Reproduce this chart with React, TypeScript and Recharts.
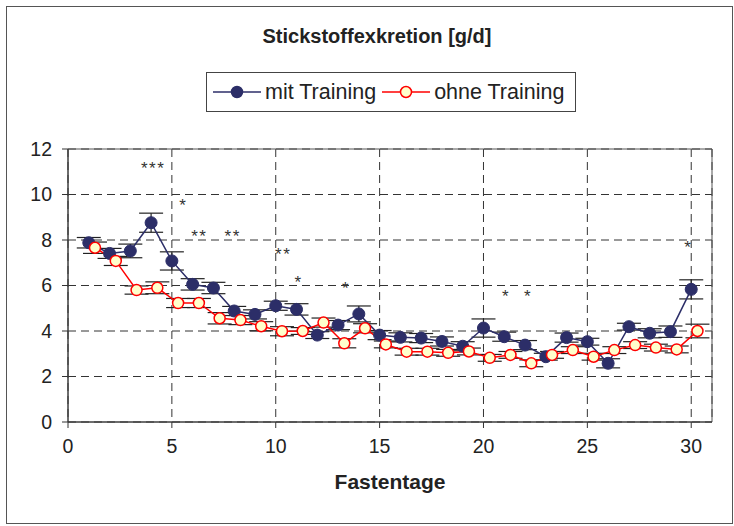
import { ComposedChart, Line, XAxis, YAxis, CartesianGrid, ErrorBar, ReferenceDot, ReferenceArea } from 'recharts'

// Fastentage 1..30
const days = [1, 2, 3, 4, 5, 6, 7, 8, 9, 10, 11, 12, 13, 14, 15, 16, 17, 18, 19, 20, 21, 22, 23, 24, 25, 26, 27, 28, 29, 30]

// Stickstoffexkretion [g/d], Mittelwert und SEM
const mitTraining = [7.88, 7.41, 7.52, 8.76, 7.08, 6.05, 5.89, 4.88, 4.73, 5.11, 4.95, 3.82, 4.26, 4.75, 3.82, 3.72, 3.69, 3.54, 3.33, 4.13, 3.75, 3.38, 2.87, 3.71, 3.53, 2.58, 4.19, 3.9, 3.97, 5.83]
const mitTrainingSem = [0.23, 0.22, 0.3, 0.42, 0.4, 0.25, 0.25, 0.2, 0.2, 0.2, 0.25, 0.15, 0.2, 0.35, 0.2, 0.2, 0.2, 0.2, 0.2, 0.4, 0.2, 0.2, 0.15, 0.2, 0.15, 0.2, 0.15, 0.2, 0.25, 0.42]
const ohneTraining = [7.66, 7.08, 5.8, 5.9, 5.23, 5.23, 4.56, 4.48, 4.21, 3.99, 4.0, 4.37, 3.46, 4.12, 3.41, 3.09, 3.09, 3.04, 3.1, 2.82, 2.95, 2.58, 2.95, 3.16, 2.87, 3.16, 3.38, 3.27, 3.19, 4.0]
const ohneTrainingSem = [0.25, 0.2, 0.18, 0.26, 0.2, 0.2, 0.25, 0.2, 0.2, 0.2, 0.15, 0.2, 0.2, 0.2, 0.15, 0.15, 0.15, 0.15, 0.15, 0.15, 0.15, 0.15, 0.15, 0.15, 0.15, 0.15, 0.15, 0.15, 0.15, 0.3]
// zweite Gruppe leicht versetzt, damit sich die Fehlerbalken nicht decken
const ohneOffset = 0.3

// Signifikanzsterne
const sigDays = [4.1, 5.55, 6.32, 7.93, 10.36, 11.1, 13.38, 21.09, 22.14, 29.86]
const sigLevels = [11.3, 9.68, 8.3, 8.3, 7.53, 6.29, 6.02, 5.66, 5.66, 7.82]
const sigMarks = ['***', '*', '**', '**', '**', '*', '*', '*', '*', '*']

const xTicks = [0, 5, 10, 15, 20, 25, 30]
const yTicks = [0, 2, 4, 6, 8, 10, 12]

const BLUE = '#2C2E68'
const RED = '#FF0000'
const FONT = '"Liberation Sans", Arial, sans-serif'

const mitData = days.map((d, i) => ({ x: d, y: mitTraining[i], err: mitTrainingSem[i] }))
const ohneData = days.map((d, i) => ({ x: d + ohneOffset, y: ohneTraining[i], err: ohneTrainingSem[i] }))

function LegendItem({ color, fill, label }: { color: string; fill: string; label: string }) {
  return (
    <div style={{ display: 'flex', alignItems: 'center' }}>
      <svg width={48} height={16}>
        <line x1={0} y1={8} x2={48} y2={8} stroke={color} strokeWidth={1.5} />
        <circle cx={24} cy={8} r={5.5} fill={fill} stroke={color} strokeWidth={1.5} />
      </svg>
      <span style={{ marginLeft: 4, marginRight: 6 }}>{label}</span>
    </div>
  )
}

export default function App() {
  return (
    <div style={{ position: 'absolute', left: 0, top: 0, width: 734, height: 526, background: '#fff', fontFamily: FONT, color: '#222' }}>
      <div style={{ position: 'absolute', left: 6, top: 6, width: 727, height: 518, border: '1px solid #555', boxSizing: 'border-box' }} />
      <div style={{ position: 'absolute', left: 0, width: 754, top: 25, textAlign: 'center', fontWeight: 'bold', fontSize: 20 }}>
        Stickstoffexkretion [g/d]
      </div>
      <div
        style={{
          position: 'absolute', left: 206, top: 72, width: 370, height: 40, boxSizing: 'border-box',
          border: '1px solid #444', display: 'flex', alignItems: 'center', paddingLeft: 6, fontSize: 21.5,
        }}
      >
        <LegendItem color={BLUE} fill={BLUE} label="mit Training" />
        <LegendItem color={RED} fill="#FFFFCC" label="ohne Training" />
      </div>

      <div style={{ position: 'absolute', left: 0, top: 0 }}>
        <ComposedChart width={734} height={526} margin={{ top: 149, right: 22, bottom: 74, left: 28 }}>
          <CartesianGrid stroke="#333" strokeDasharray="8 5" />
          <XAxis
            type="number"
            dataKey="x"
            domain={[0, 31]}
            ticks={xTicks}
            height={30}
            tickSize={6}
            tickMargin={11}
            stroke="#333"
            tick={{ fill: '#222', fontSize: 19.5, fontFamily: FONT }}
            label={{ value: 'Fastentage', position: 'bottom', offset: 22, fill: '#222', fontSize: 21, fontWeight: 'bold', fontFamily: FONT }}
          />
          <YAxis
            type="number"
            domain={[0, 12]}
            ticks={yTicks}
            width={40}
            tickSize={6}
            tickMargin={10}
            stroke="#333"
            tick={{ fill: '#222', fontSize: 19.5, fontFamily: FONT }}
          />
          <ReferenceArea x1={0} x2={31} y1={0} y2={12} fill="none" stroke="#555" strokeWidth={1} />
          <Line data={mitData} dataKey="y" stroke={BLUE} strokeWidth={1.5} isAnimationActive={false}
            dot={{ r: 6, fill: BLUE, stroke: BLUE, strokeWidth: 1 }}>
            <ErrorBar dataKey="err" direction="y" width={12} stroke="#222" strokeWidth={1.2} />
          </Line>
          <Line data={ohneData} dataKey="y" stroke={RED} strokeWidth={1.5} isAnimationActive={false}
            dot={{ r: 5.5, fill: '#FFFFCC', stroke: RED, strokeWidth: 1.5 }}>
            <ErrorBar dataKey="err" direction="y" width={12} stroke="#222" strokeWidth={1.2} />
          </Line>
          {sigDays.map((d, i) => (
            <ReferenceDot
              key={`sig-${i}`}
              x={d}
              y={sigLevels[i]}
              r={0}
              shape={(p: any) => (
                <text x={p.cx} y={p.cy + 9} textAnchor="middle" fontSize={17} fontFamily={FONT} fill="#333" letterSpacing={1.5}>
                  {sigMarks[i]}
                </text>
              )}
            />
          ))}
        </ComposedChart>
      </div>
    </div>
  )
}
